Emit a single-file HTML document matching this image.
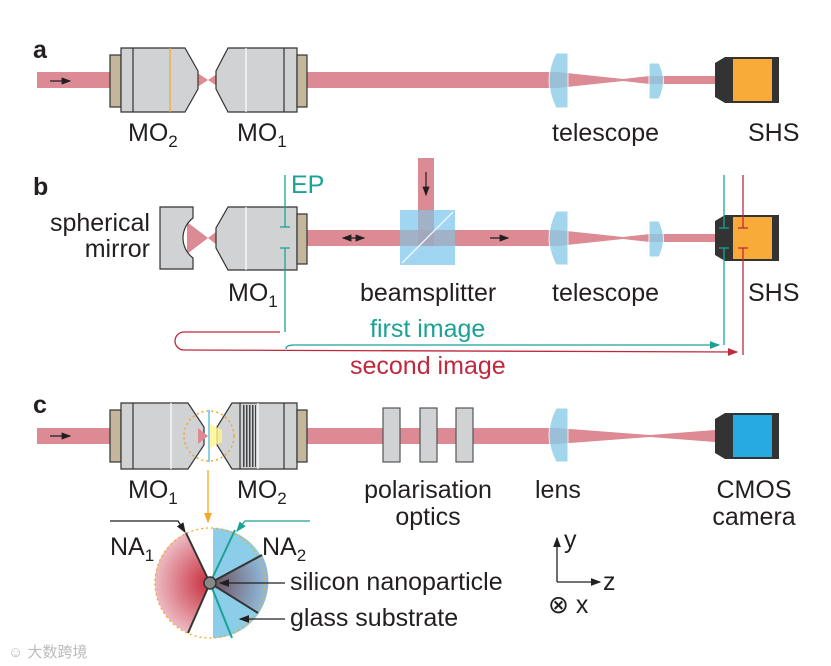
<!DOCTYPE html>
<html><head><meta charset="utf-8"><style>
html,body{margin:0;padding:0;background:#fff}
svg{display:block}
text{font-family:"Liberation Sans",Arial,sans-serif;font-size:25px;fill:#231f20}
.b{font-weight:bold;font-size:25px}
.s{font-size:17px}
</style></head><body>
<svg width="831" height="666" viewBox="0 0 831 666" xmlns="http://www.w3.org/2000/svg">
<defs>
<marker id="ak" markerWidth="8" markerHeight="6" refX="7" refY="3" orient="auto-start-reverse"><path d="M0,0 L8,3 L0,6 z" fill="#231f20"/></marker>
<marker id="at" markerWidth="8" markerHeight="6" refX="7" refY="3" orient="auto"><path d="M0,0 L8,3 L0,6 z" fill="#1aa394"/></marker>
<marker id="ar" markerWidth="8" markerHeight="6" refX="7" refY="3" orient="auto"><path d="M0,0 L8,3 L0,6 z" fill="#c0283c"/></marker>
<marker id="ao" markerWidth="8" markerHeight="6" refX="7" refY="3" orient="auto"><path d="M0,0 L8,3 L0,6 z" fill="#f5a623"/></marker>
<pattern id="st" width="3" height="10" patternUnits="userSpaceOnUse"><rect width="3" height="10" fill="#d1d2d4"/><rect width="1.5" height="10" fill="#444"/></pattern>
<radialGradient id="rg" cx="210" cy="583" r="60" gradientUnits="userSpaceOnUse"><stop offset="0" stop-color="#c62a3a"/><stop offset="1" stop-color="#f1c8cf"/></radialGradient>
<radialGradient id="gg" cx="210" cy="583" r="55" gradientUnits="userSpaceOnUse"><stop offset="0" stop-color="#6a4a55"/><stop offset="1" stop-color="#8fb8d8"/></radialGradient>
</defs>
<g fill="#dc8a93">
<rect x="37" y="72" width="75" height="16"/>
<polygon points="196,72 208,80 220,72 220,88 208,80 196,88"/>
<rect x="305" y="72" width="252" height="16"/>
<polygon points="557,72 623,79 650,76 715,76 715,84 650,84 623,81 557,88"/>
<polygon points="187,222 208,238 187,254"/>
<polygon points="229,222 208,238 229,254"/>
<rect x="305" y="230" width="252" height="16"/>
<rect x="418" y="158" width="16" height="80"/>
<polygon points="557,230 623,237 650,234 715,234 715,242 650,242 623,239 557,246"/>
<rect x="37" y="428" width="75" height="16"/>
<rect x="305" y="428" width="252" height="16"/>
<polygon points="557,428 650,435 715,430 715,442 650,437 557,444"/>
<polygon points="196,428 208,436 196,444"/>
</g>
<g stroke="#231f20" stroke-width="1.2" fill="none">
<line x1="50" y1="81" x2="70" y2="81" marker-end="url(#ak)"/>
<line x1="50" y1="436" x2="70" y2="436" marker-end="url(#ak)"/>
<line x1="426" y1="172" x2="426" y2="195" marker-end="url(#ak)"/>
<line x1="490" y1="238" x2="508" y2="238" marker-end="url(#ak)"/>
<line x1="343" y1="238" x2="364" y2="238" marker-end="url(#ak)" marker-start="url(#ak)"/>
</g>
<g stroke="#333" stroke-width="1.2">
<rect x="110" y="55" width="11" height="52" fill="#c3b69c"/>
<polygon points="121,48 185,48 198,71 198,89 185,112 121,112" fill="#d1d2d4"/>
<line x1="133" y1="48" x2="133" y2="112"/>
<line x1="170" y1="48" x2="170" y2="112" stroke="#f5a623"/>
<polygon points="297,48 228,48 216,71 216,89 228,112 297,112" fill="#d1d2d4"/>
<line x1="246" y1="48" x2="246" y2="112" stroke="#fff"/>
<line x1="284" y1="48" x2="284" y2="112"/>
<rect x="297" y="55" width="10" height="52" fill="#c3b69c"/>
<path d="M160,207 L193,207 L193,218 A25,25 0 0 0 193,258 L193,269 L160,269 z" fill="#d1d2d4"/>
<polygon points="297,207 228,207 216,228 216,248 228,270 297,270" fill="#d1d2d4"/>
<line x1="246" y1="207" x2="246" y2="270" stroke="#fff"/>
<rect x="297" y="214" width="10" height="50" fill="#c3b69c"/>
<rect x="110" y="410" width="11" height="52" fill="#c3b69c"/>
<polygon points="121,403 188,403 204,427 204,445 188,469 121,469" fill="#d1d2d4"/>
<line x1="133" y1="403" x2="133" y2="469"/>
<line x1="171" y1="403" x2="171" y2="469" stroke="#fff"/>
<polygon points="297,403 232,403 217,427 217,445 232,469 297,469" fill="#d1d2d4"/>
<rect x="242" y="405" width="14" height="62" fill="url(#st)" stroke="none"/>
<line x1="240" y1="403" x2="240" y2="469"/>
<line x1="258" y1="403" x2="258" y2="469" stroke="#fff"/>
<line x1="284" y1="403" x2="284" y2="469"/>
<rect x="297" y="410" width="10" height="52" fill="#c3b69c"/>
<rect x="383" y="408" width="17" height="54" fill="#d1d2d4" stroke="#555"/>
<rect x="420" y="408" width="17" height="54" fill="#d1d2d4" stroke="#555"/>
<rect x="456" y="408" width="17" height="54" fill="#d1d2d4" stroke="#555"/>
</g>
<polygon points="210,424 222,430 222,442 210,448" fill="#fff48c" opacity="0.8"/>
<polygon points="198,428 208,436 198,444" fill="#dc8a93"/>
<circle cx="209" cy="436" r="25" fill="none" stroke="#f5a623" stroke-width="1.5" stroke-dasharray="2,3"/>
<line x1="209" y1="410" x2="209" y2="462" stroke="#8ccde9" stroke-width="2"/>
<line x1="208" y1="470" x2="208" y2="522" stroke="#f5a623" stroke-width="1.3" marker-end="url(#ao)"/>
<rect x="400" y="210" width="55" height="55" fill="#8fcfee" opacity="0.85"/>
<rect x="418" y="210" width="16" height="36" fill="#a3a3b8" opacity="0.6"/>
<rect x="400" y="230" width="55" height="16" fill="#a3a3b8" opacity="0.6"/>
<line x1="402" y1="263" x2="453" y2="212" stroke="#fff" stroke-width="1.2"/>
<g fill="#8ccde9" opacity="0.8" stroke="#fff" stroke-width="1">
<path d="M556,53 L568,53 L568,108 L556,108 Q542,80 556,53 z"/>
<path d="M649,63 L659,63 Q668,81 659,99 L649,99 z"/>
<path d="M556,211 L568,211 L568,265 L556,265 Q542,238 556,211 z"/>
<path d="M649,221 L659,221 Q668,239 659,257 L649,257 z"/>
<path d="M556,408 L568,408 L568,462 L556,462 Q542,435 556,408 z"/>
</g>
<g>
<polygon points="715,63 725,57 725,103 715,97" fill="#333"/>
<rect x="725" y="57" width="54" height="46" fill="#333"/>
<rect x="733" y="59" width="39" height="42" fill="#f9ab3a"/>
<polygon points="715,221 725,215 725,261 715,255" fill="#333"/>
<rect x="725" y="215" width="54" height="46" fill="#333"/>
<rect x="733" y="217" width="39" height="42" fill="#f9ab3a"/>
<polygon points="715,419 725,413 725,459 715,453" fill="#333"/>
<rect x="725" y="413" width="54" height="46" fill="#333"/>
<rect x="733" y="415" width="39" height="42" fill="#27a9e1"/>
</g>
<g stroke="#1aa394" stroke-width="1.3" fill="none">
<line x1="285" y1="175" x2="285" y2="227"/><line x1="280" y1="227" x2="290" y2="227"/>
<line x1="285" y1="248" x2="285" y2="332"/><line x1="280" y1="248" x2="290" y2="248"/>
<line x1="724" y1="175" x2="724" y2="228"/><line x1="719" y1="228" x2="729" y2="228"/>
<line x1="724" y1="248" x2="724" y2="345"/><line x1="719" y1="248" x2="729" y2="248"/>
<path d="M294,345 L719,345" marker-end="url(#at)"/>
<path d="M294,345 Q286,345 286,349"/>
</g>
<g stroke="#c0283c" stroke-width="1.3" fill="none">
<line x1="743" y1="175" x2="743" y2="228"/><line x1="738" y1="228" x2="748" y2="228"/>
<line x1="743" y1="248" x2="743" y2="355"/><line x1="738" y1="248" x2="748" y2="248"/>
<path d="M280,332 L184,332 A9,9 0 0 0 184,350 L737,352" marker-end="url(#ar)"/>
</g>
<path d="M210,583 L186,533 A55,55 0 0 0 188,633 z" fill="url(#rg)"/>
<path d="M213,528 A55,55 0 0 1 213,638 z" fill="#8ccde9"/>
<path d="M210,583 L262,555 A55,55 0 0 1 258,613 z" fill="url(#gg)"/>
<circle cx="210" cy="583" r="55" fill="none" stroke="#f5a623" stroke-width="1.3" stroke-dasharray="2,3"/>
<g stroke="#333" stroke-width="2"><line x1="210" y1="583" x2="186" y2="533"/><line x1="210" y1="583" x2="188" y2="633"/><line x1="210" y1="583" x2="262" y2="555"/><line x1="210" y1="583" x2="258" y2="613"/></g>
<g stroke="#1aa394" stroke-width="2"><line x1="210" y1="583" x2="235" y2="530"/><line x1="210" y1="583" x2="232" y2="638"/></g>
<circle cx="210" cy="583" r="6" fill="#888" stroke="#333" stroke-width="1.5"/>
<g stroke="#231f20" stroke-width="1.3" fill="none">
<path d="M110,521 L178,521 L185,532" marker-end="url(#ak)"/>
<line x1="285" y1="583" x2="220" y2="583" marker-end="url(#ak)"/>
<line x1="285" y1="619" x2="240" y2="619" marker-end="url(#ak)"/>
<line x1="557" y1="582" x2="557" y2="538" marker-end="url(#ak)"/>
<line x1="557" y1="582" x2="600" y2="582" marker-end="url(#ak)"/>
</g>
<path d="M310,521 L245,521 L237,531" stroke="#1aa394" stroke-width="1.3" fill="none" marker-end="url(#at)"/>
<text x="33" y="58" class="b">a</text>
<text x="33" y="195" class="b">b</text>
<text x="33" y="413" class="b">c</text>
<text x="128" y="141">MO<tspan class="s" dy="6">2</tspan></text>
<text x="237" y="141">MO<tspan class="s" dy="6">1</tspan></text>
<text x="552" y="141">telescope</text>
<text x="748" y="141">SHS</text>
<text x="150" y="231" text-anchor="end">spherical</text>
<text x="150" y="257" text-anchor="end">mirror</text>
<text x="291" y="193" style="fill:#1aa394">EP</text>
<text x="228" y="301">MO<tspan class="s" dy="6">1</tspan></text>
<text x="360" y="301">beamsplitter</text>
<text x="552" y="301">telescope</text>
<text x="748" y="301">SHS</text>
<text x="370" y="337" style="fill:#1aa394">first image</text>
<text x="350" y="374" style="fill:#c0283c">second image</text>
<text x="128" y="498">MO<tspan class="s" dy="6">1</tspan></text>
<text x="237" y="498">MO<tspan class="s" dy="6">2</tspan></text>
<text x="428" y="498" text-anchor="middle">polarisation</text>
<text x="428" y="525" text-anchor="middle">optics</text>
<text x="535" y="498">lens</text>
<text x="754" y="498" text-anchor="middle">CMOS</text>
<text x="754" y="525" text-anchor="middle">camera</text>
<text x="110" y="555">NA<tspan class="s" dy="6">1</tspan></text>
<text x="262" y="555">NA<tspan class="s" dy="6">2</tspan></text>
<text x="290" y="590">silicon nanoparticle</text>
<text x="290" y="626">glass substrate</text>
<text x="564" y="548">y</text>
<text x="603" y="590">z</text>
<text x="548" y="613">⊗ x</text>
<text x="8" y="657" style="font-size:15px;fill:#bbb" font-family="Liberation Sans, Noto Sans CJK SC, sans-serif">☺ 大数跨境</text>
</svg>
</body></html>
